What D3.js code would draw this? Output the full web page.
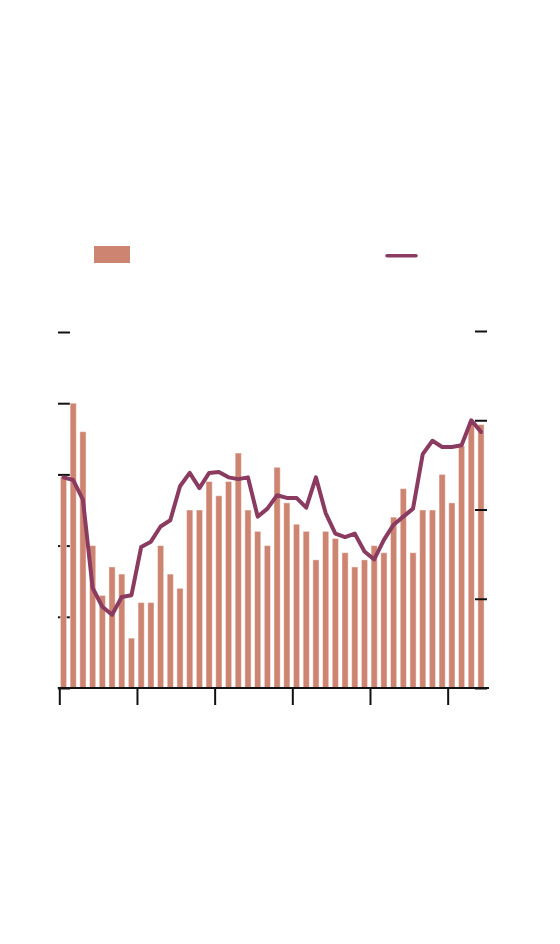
<!DOCTYPE html>
<html>
<head>
<meta charset="utf-8">
<script src="https://cdn.jsdelivr.net/npm/d3@7"></script>
<style>
  html, body { margin: 0; padding: 0; background: #ffffff; }
  svg { display: block; }
</style>
</head>
<body>
<div id="chart"></div>
<script>
// ---- data ----
const periods = d3.range(44);
const barValues = [29.6, 40, 36, 20, 13, 17, 16, 7, 12, 12, 20, 16, 14, 25, 25, 29, 27, 29, 33, 25, 22, 20,
                   31, 26, 23, 22, 18, 22, 21, 19, 17, 18, 20, 19, 24, 28, 19, 25, 25, 30, 26, 34, 37.4, 37];
const lineValues = [2.36, 2.33, 2.11, 1.12, 0.91, 0.82, 1.02, 1.04, 1.58, 1.64, 1.81, 1.88, 2.26, 2.41, 2.24,
                    2.41, 2.42, 2.36, 2.34, 2.36, 1.92, 2.01, 2.16, 2.13, 2.13, 2.02, 2.36, 1.96, 1.73, 1.69,
                    1.73, 1.53, 1.44, 1.66, 1.83, 1.92, 2.01, 2.62, 2.77, 2.70, 2.70, 2.72, 3.00, 2.87];
const xTickValues = [0, 8, 16, 24, 32, 40];
const leftTickValues = [0, 10, 20, 30, 40, 50];
const rightTickValues = [0, 1, 2, 3, 4];

const W = 560, H = 944;
const barColor = "#cd8571";
const lineColor = "#8b3b60";

const svg = d3.select("#chart").append("svg").attr("width", W).attr("height", H);

const x = d3.scaleLinear().domain([0, 44]).range([59.3, 486.5]);
const step = x(1) - x(0);
const yL = d3.scaleLinear().domain([0, 50]).range([688, 332]);
const yR = d3.scaleLinear().domain([0, 4]).range([688, 331]);

// left axis ticks (behind bars)
const gL = svg.append("g").attr("transform", `translate(${x(0) + 10.7},0)`)
  .call(d3.axisLeft(yL).tickValues(leftTickValues).tickSize(12).tickFormat(""));
gL.select(".domain").remove();
gL.selectAll(".tick line").attr("stroke", "#111").attr("stroke-width", 2);

// bars
svg.append("g").selectAll("rect").data(periods).join("rect")
  .attr("x", d => x(d) + 1.1)
  .attr("width", step - 3.5)
  .attr("y", d => yL(barValues[d]))
  .attr("height", d => yL(0) - yL(barValues[d]))
  .attr("fill", barColor)
  .attr("stroke", "rgba(255,255,255,0.45)")
  .attr("stroke-width", 1);

// x axis
const gX = svg.append("g").attr("transform", `translate(0,${yL(0)})`)
  .call(d3.axisBottom(x).tickValues(xTickValues).tickSize(17).tickSizeOuter(0).tickFormat(""));
gX.select(".domain").remove();
gX.selectAll(".tick line").attr("stroke", "#111").attr("stroke-width", 2);
svg.append("line")
  .attr("x1", x.range()[0] - 1.5).attr("x2", x.range()[1] + 2.5)
  .attr("y1", yL(0)).attr("y2", yL(0))
  .attr("stroke", "#111").attr("stroke-width", 2);

// right axis ticks
const gR = svg.append("g").attr("transform", `translate(${x(44) - 11.5},0)`)
  .call(d3.axisRight(yR).tickValues(rightTickValues).tickSize(12).tickFormat(""));
gR.select(".domain").remove();
gR.selectAll(".tick line").attr("stroke", "#111").attr("stroke-width", 2);

// line
const line = d3.line()
  .x(d => x(d) + 4.2)
  .y(d => yR(lineValues[d]));
svg.append("path").datum(periods)
  .attr("d", line)
  .attr("fill", "none")
  .attr("stroke", lineColor)
  .attr("stroke-width", 4)
  .attr("stroke-linejoin", "round")
  .attr("stroke-linecap", "round");

// legend
const legend = svg.append("g");
legend.append("rect").attr("x", 94).attr("y", 246).attr("width", 36).attr("height", 17).attr("fill", barColor);
legend.append("line").attr("x1", 387).attr("x2", 416).attr("y1", 255.7).attr("y2", 255.7)
  .attr("stroke", lineColor).attr("stroke-width", 3.5).attr("stroke-linecap", "round");
</script>
</body>
</html>
